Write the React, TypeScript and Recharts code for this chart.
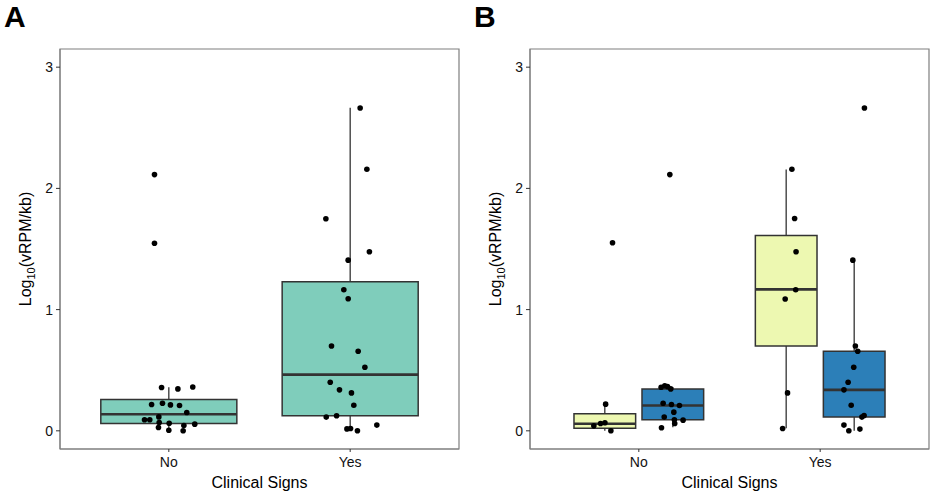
import React from "react";
import {
  ComposedChart,
  XAxis,
  YAxis,
  Scatter,
  ReferenceArea,
  ReferenceLine,
} from "recharts";

const FONT = "'Liberation Sans', Arial, sans-serif";

const categories = ["No", "Yes"];
const yTicks = [0, 1, 2, 3];

// Panel A: all samples, split by clinical signs
const noValuesA = [2.114, 1.548, 0.357, 0.346, 0.362, 0.217, 0.228, 0.214, 0.209, 0.151, 0.091, 0.091, 0.115, 0.069, 0.063, 0.055, 0.044, 0.027, 0.005, 0.0];
const noJitterA = [-0.079, -0.079, -0.04, 0.05, 0.132, -0.095, -0.035, 0.009, 0.059, 0.099, -0.134, -0.105, -0.055, -0.053, 0.002, 0.143, 0.083, -0.057, 0.0, 0.079];
const yesValuesA = [2.663, 2.158, 1.749, 1.477, 1.408, 1.164, 1.09, 0.7, 0.656, 0.524, 0.401, 0.338, 0.313, 0.211, 0.113, 0.124, 0.047, 0.016, 0.019, 0.0];
const yesJitterA = [0.055, 0.092, -0.134, 0.106, -0.011, -0.035, -0.011, -0.103, 0.044, 0.081, -0.11, -0.059, 0.007, 0.02, -0.132, -0.075, 0.147, -0.018, 0.002, 0.04];

// Panel B: same samples, two groups (yellow / blue)
const noValuesB1 = [1.551, 0.22, 0.041, 0.06, 0.066, 0.0];
const noJitterB1 = [-0.145, -0.183, -0.248, -0.211, -0.187, -0.154];
const noValuesB2 = [2.114, 0.36, 0.371, 0.365, 0.346, 0.228, 0.217, 0.209, 0.154, 0.113, 0.091, 0.088, 0.06, 0.025];
const noJitterB2 = [0.171, 0.123, 0.143, 0.158, 0.176, 0.134, 0.18, 0.224, 0.193, 0.14, 0.196, 0.244, 0.198, 0.125];
const yesValuesB1 = [2.158, 1.752, 1.477, 1.164, 1.087, 0.313, 0.019];
const yesJitterB1 = [-0.156, -0.141, -0.133, -0.135, -0.193, -0.18, -0.207];
const yesValuesB2 = [2.663, 1.408, 0.7, 0.656, 0.524, 0.401, 0.338, 0.211, 0.113, 0.126, 0.047, 0.0, 0.014];
const yesJitterB2 = [0.244, 0.18, 0.194, 0.207, 0.185, 0.154, 0.131, 0.171, 0.23, 0.242, 0.131, 0.158, 0.219];

// box stats: [lower whisker, q1, median, q3, upper whisker]
const boxNoA = [0.0, 0.06, 0.137, 0.258, 0.36];
const boxYesA = [0.0, 0.124, 0.464, 1.23, 2.666];
const boxNoB1 = [0.0, 0.022, 0.058, 0.14, 0.22];
const boxNoB2 = [0.03, 0.091, 0.209, 0.346, 0.36];
const boxYesB1 = [0.022, 0.7, 1.167, 1.611, 2.155];
const boxYesB2 = [0.0, 0.113, 0.338, 0.656, 1.408];

const TEAL = "#7fcdbb";
const YELLOW = "#edf8b1";
const BLUE = "#2c7fb8";
const OUTLINE = "#333333";
const BORDER = "#7f7f7f";

type BoxSpec = { x: number; width: number; stats: number[]; fill: string };

function toPoints(values: number[], jitter: number[], cat: number) {
  return values.map((v, i) => ({ x: cat + jitter[i], y: v }));
}

const Dot = (props: any) => <circle cx={props.cx} cy={props.cy} r={2.8} fill="#000" />;

function renderBox(b: BoxSpec, key: string) {
  const [lo, q1, med, q3, hi] = b.stats;
  const x1 = b.x - b.width / 2;
  const x2 = b.x + b.width / 2;
  return [
    <ReferenceLine key={key + "wu"} segment={[{ x: b.x, y: q3 }, { x: b.x, y: hi }]} stroke={OUTLINE} strokeWidth={1.3} ifOverflow="visible" />,
    <ReferenceLine key={key + "wl"} segment={[{ x: b.x, y: lo }, { x: b.x, y: q1 }]} stroke={OUTLINE} strokeWidth={1.3} ifOverflow="visible" />,
    <ReferenceArea key={key + "box"} x1={x1} x2={x2} y1={q1} y2={q3} fill={b.fill} fillOpacity={1} stroke={OUTLINE} strokeWidth={1.5} ifOverflow="visible" />,
    <ReferenceLine key={key + "med"} segment={[{ x: x1, y: med }, { x: x2, y: med }]} stroke={OUTLINE} strokeWidth={2.6} ifOverflow="visible" />,
  ];
}

const YLabel = (props: any) => {
  const vb = props.viewBox || {};
  const cy = (vb.y ?? 49) + (vb.height ?? 400) / 2;
  const cx = 25;
  return (
    <text x={cx} y={cy} transform={`rotate(-90, ${cx}, ${cy})`} textAnchor="middle" dy="0.35em" fontSize={16} fill="#000" fontFamily={FONT}>
      <tspan>Log</tspan>
      <tspan fontSize={11} dy={4}>10</tspan>
      <tspan dy={-4}>(vRPM/kb)</tspan>
    </text>
  );
};

const XLabel = (props: any) => {
  const vb = props.viewBox || {};
  const cx = (vb.x ?? 60) + (vb.width ?? 399) / 2;
  return (
    <text x={cx} y={488} textAnchor="middle" fontSize={16} fill="#000" fontFamily={FONT}>
      Clinical Signs
    </text>
  );
};

function Panel({
  letter,
  left,
  width,
  marginRight,
  boxes,
  points,
}: {
  letter: string;
  left: number;
  width: number;
  marginRight: number;
  boxes: BoxSpec[];
  points: { x: number; y: number }[][];
}) {
  return (
    <div style={{ position: "absolute", left, top: 0, width, height: 494 }}>
      <div style={{ position: "absolute", left: 4, top: 0, fontFamily: FONT, fontWeight: 700, fontSize: 30, lineHeight: "34px" }}>
        {letter}
      </div>
      <ComposedChart width={width} height={494} margin={{ top: 49, right: marginRight, bottom: 0, left: 0 }} style={{ fontFamily: FONT }}>
        <XAxis
          type="number"
          dataKey="x"
          domain={[0.4, 2.6]}
          ticks={[1, 2]}
          tickFormatter={(v: number) => categories[v - 1]}
          allowDataOverflow
          height={45}
          axisLine={{ stroke: BORDER }}
          tickLine={{ stroke: "#333" }}
          tickSize={3}
          tickMargin={5}
          tick={{ fontSize: 14, fill: "#111" }}
          label={{ content: XLabel }}
        />
        <YAxis
          type="number"
          dataKey="y"
          domain={[-0.15, 3.15]}
          ticks={yTicks}
          allowDataOverflow
          width={60}
          axisLine={{ stroke: BORDER }}
          tickLine={{ stroke: "#333" }}
          tickSize={4}
          tickMargin={3}
          tick={{ fontSize: 14, fill: "#111" }}
          label={{ content: YLabel }}
        />
        <ReferenceArea x1={0.4} x2={2.6} y1={-0.15} y2={3.15} fill="none" stroke={BORDER} strokeWidth={1.2} ifOverflow="visible" />
        {boxes.map((b, i) => renderBox(b, "b" + i))}
        {points.map((pts, i) => (
          <Scatter key={"s" + i} data={pts} shape={Dot} isAnimationActive={false} />
        ))}
      </ComposedChart>
    </div>
  );
}

export default function App() {
  const boxesA: BoxSpec[] = [
    { x: 1, width: 0.75, stats: boxNoA, fill: TEAL },
    { x: 2, width: 0.75, stats: boxYesA, fill: TEAL },
  ];
  const boxesB: BoxSpec[] = [
    { x: 1 - 0.1875, width: 0.34, stats: boxNoB1, fill: YELLOW },
    { x: 1 + 0.1875, width: 0.34, stats: boxNoB2, fill: BLUE },
    { x: 2 - 0.1875, width: 0.34, stats: boxYesB1, fill: YELLOW },
    { x: 2 + 0.1875, width: 0.34, stats: boxYesB2, fill: BLUE },
  ];
  const pointsA = [toPoints(noValuesA, noJitterA, 1), toPoints(yesValuesA, yesJitterA, 2)];
  const pointsB = [
    toPoints(noValuesB1, noJitterB1, 1),
    toPoints(noValuesB2, noJitterB2, 1),
    toPoints(yesValuesB1, yesJitterB1, 2),
    toPoints(yesValuesB2, yesJitterB2, 2),
  ];
  return (
    <div style={{ position: "absolute", left: 0, top: 0, width: 933, height: 494, background: "#fff" }}>
      <Panel letter="A" left={0} width={466} marginRight={7} boxes={boxesA} points={pointsA} />
      <Panel letter="B" left={470} width={463} marginRight={4} boxes={boxesB} points={pointsB} />
    </div>
  );
}
